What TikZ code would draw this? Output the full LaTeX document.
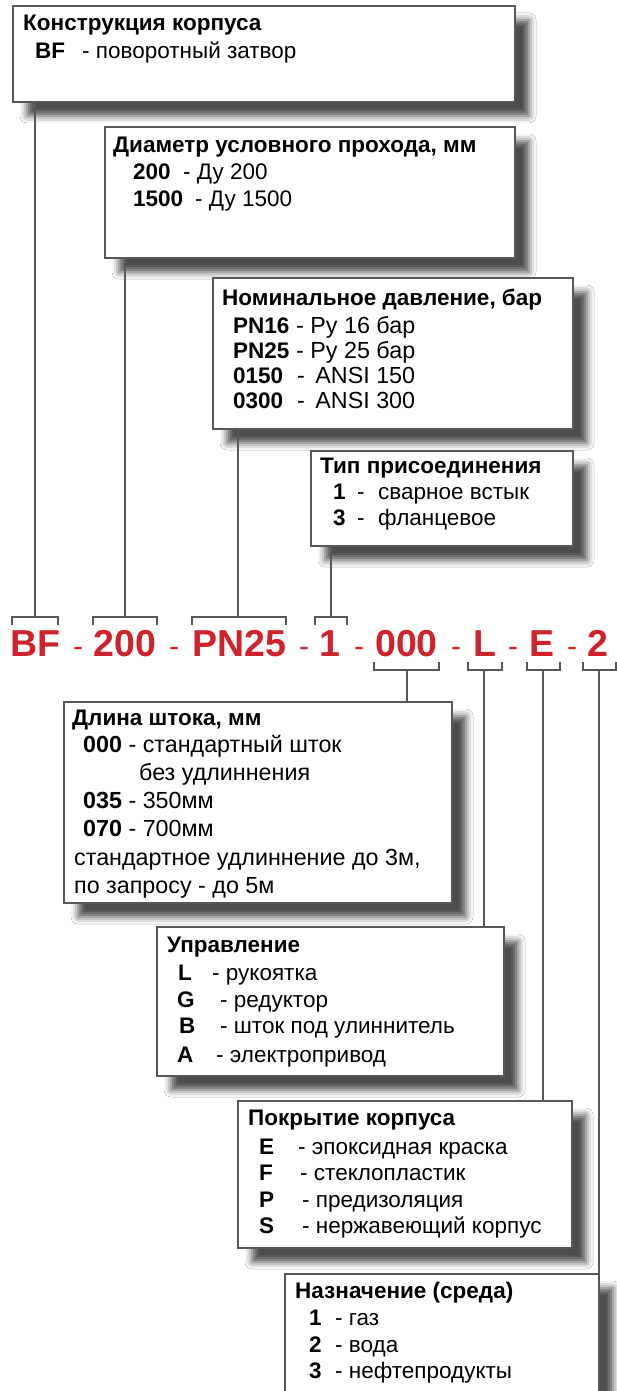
\documentclass[tikz,border=0pt]{standalone}
\usepackage{fontspec}
\setmainfont{Liberation Sans}
\usetikzlibrary{shadows.blur}
\definecolor{codered}{RGB}{208,34,42}
\definecolor{framegray}{RGB}{88,88,88}
\begin{document}
\begin{tikzpicture}[x=1pt,y=-1pt,
  infobox/.style={draw=framegray, line width=2pt, fill=white, inner sep=0pt,
    anchor=north west,
    blur shadow={shadow xshift=14pt, shadow yshift=-14pt,
      shadow blur radius=7pt, shadow opacity=70}},
  txt/.style={anchor=base west, inner sep=0pt, font=\fontsize{22.5}{26}\selectfont},
  wtxt/.style={anchor=base west, inner sep=0pt, font=\fontsize{23.3}{26}\selectfont},
  ttl/.style={txt, font=\fontsize{22.5}{26}\selectfont\bfseries},
  key/.style={txt, font=\fontsize{22.5}{26}\selectfont\bfseries},
  code/.style={anchor=base, inner sep=0pt, text=codered,
    font=\fontsize{37.5}{38}\selectfont\bfseries},
  sep/.style={anchor=base, inner sep=0pt, text=codered,
    font=\fontsize{30}{30}\selectfont},
  conn/.style={draw=framegray, line width=2.5pt},
  brk/.style={draw=framegray, line width=2pt}]
\useasboundingbox[fill=white] (0,0) rectangle (617,1391);

% ---------- code string ----------
\node[code] (cBF)  at (35.5,656) {BF};
\node[sep]  (s1)   at (78,656)   {-};
\node[code] (c200) at (125,656)  {200};
\node[sep]  (s2)   at (174,656)  {-};
\node[code] (cPN)  at (239,656)  {PN25};
\node[sep]  (s3)   at (304,656)  {-};
\node[code] (c1)   at (330,656)  {1};
\node[sep]  (s4)   at (359,656)  {-};
\node[code] (c000) at (406.5,656) {000};
\node[sep]  (s5)   at (456,656)  {-};
\node[code] (cL)   at (485,656)  {L};
\node[sep]  (s6)   at (513,656)  {-};
\node[code] (cE)   at (542,656)  {E};
\node[sep]  (s7)   at (572,656)  {-};
\node[code] (c2)   at (598,656)  {2};

% brackets above the code groups
\draw[brk] (12,625) -- (12,617) -- (58,617) -- (58,625);
\draw[brk] (93,625) -- (93,617) -- (157,617) -- (157,625);
\draw[brk] (192,625) -- (192,617) -- (286,617) -- (286,625);
\draw[brk] (315,625) -- (315,617) -- (347,617) -- (347,625);
\coordinate (uBF)  at (35,617);
\coordinate (u200) at (125,617);
\coordinate (uPN)  at (238,617);
\coordinate (u1)   at (331,617);

% brackets below the code groups
\draw[brk] (374,662) -- (374,670) -- (439,670) -- (439,662);
\draw[brk] (468,662) -- (468,670) -- (502,670) -- (502,662);
\draw[brk] (527,662) -- (527,670) -- (560,670) -- (560,662);
\draw[brk] (583,662) -- (583,670) -- (616,670) -- (616,662);
\coordinate (d000) at (407,670);
\coordinate (dL)   at (484,670);
\coordinate (dE)   at (543,670);
\coordinate (d2)   at (599,670);

% ---------- boxes ----------
\node[infobox, minimum width=502pt, minimum height=96pt]  (b1) at (12,5) {};
\node[infobox, minimum width=410pt, minimum height=131pt] (b2) at (104,126) {};
\node[infobox, minimum width=360pt, minimum height=151pt] (b3) at (212,277) {};
\node[infobox, minimum width=262pt, minimum height=95pt]  (b4) at (310,450) {};
\node[infobox, minimum width=388pt, minimum height=201pt] (b5) at (63,701) {};
\node[infobox, minimum width=347pt, minimum height=149pt] (b6) at (156,926) {};
\node[infobox, minimum width=334pt, minimum height=147pt] (b7) at (237,1100) {};
\node[infobox, minimum width=314pt, minimum height=160pt] (b8) at (284,1273) {};

% ---------- connectors ----------
\draw[conn] (b1.south -| uBF) -- (uBF);
\draw[conn] (b2.south -| u200) -- (u200);
\draw[conn] (b3.south -| uPN) -- (uPN);
\draw[conn] (b4.south -| u1) -- (u1);
\draw[conn] (d000) -- (d000 |- b5.north);
\draw[conn] (dL) -- (dL |- b6.north);
\draw[conn] (dE) -- (dE |- b7.north);
\draw[conn] (d2) -- (d2 |- b8.north);

% ---------- box texts ----------
% body construction
\node[ttl] (h1) at (23,31) {Конструкция корпуса};
\node[key] (k1a) at (35,59) {BF};
\node[txt] (v1a) at (82,59) {- поворотный затвор};

% nominal diameter
\node[ttl] (h2) at (113,153) {Диаметр условного прохода, мм};
\node[key] (k2a) at (133,180) {200};
\node[txt] (v2a) at (183,180) {- Ду 200};
\node[key] (k2b) at (133,207) {1500};
\node[txt] (v2b) at (195,207) {- Ду 1500};

% nominal pressure
\node[ttl] (h3) at (222,305) {Номинальное давление, бар};
\node[key] (k3a) at (233,333) {PN16};
\node[wtxt] (v3a) at (296,333) {- Ру 16 бар};
\node[key] (k3b) at (233,358) {PN25};
\node[wtxt] (v3b) at (296,358) {- Ру 25 бар};
\node[key] (k3c) at (233,383) {0150};
\node[wtxt] (v3c) at (297,383) {-\hspace{0.45em}ANSI 150};
\node[key] (k3d) at (233,408) {0300};
\node[wtxt] (v3d) at (297,408) {-\hspace{0.45em}ANSI 300};

% connection type
\node[ttl] (h4) at (320,473) {Тип присоединения};
\node[key] (k4a) at (333,499) {1};
\node[txt] (m4a) at (357,499) {-};
\node[txt] (v4a) at (378,499) {сварное встык};
\node[key] (k4b) at (333,525) {3};
\node[txt] (m4b) at (357,525) {-};
\node[txt] (v4b) at (378,525) {фланцевое};

% stem length
\node[ttl] (h5) at (72,725) {Длина штока, мм};
\node[wtxt] (v5a) at (83,752) {\textbf{000} - стандартный шток};
\node[wtxt] (v5b) at (139,780) {без удлиннения};
\node[wtxt] (v5c) at (83,808) {\textbf{035} - 350мм};
\node[wtxt] (v5d) at (83,836) {\textbf{070} - 700мм};
\node[wtxt] (v5e) at (74,865) {стандартное удлиннение до 3м,};
\node[wtxt] (v5f) at (74,893) {по запросу - до 5м};

% operation
\node[ttl] (h6) at (167,952) {Управление};
\node[key] (k6a) at (178,980) {L};
\node[txt] (v6a) at (212,980) {- рукоятка};
\node[key] (k6b) at (177,1007) {G};
\node[txt] (v6b) at (220,1007) {- редуктор};
\node[key] (k6c) at (179,1033) {B};
\node[txt] (v6c) at (220,1033) {- шток под улиннитель};
\node[key] (k6d) at (177,1062) {A};
\node[txt] (v6d) at (216,1062) {- электропривод};

% body coating
\node[ttl] (h7) at (248,1125) {Покрытие корпуса};
\node[key] (k7a) at (259,1154) {E};
\node[txt] (v7a) at (298,1154) {- эпоксидная краска};
\node[key] (k7b) at (259,1180) {F};
\node[txt] (v7b) at (300,1180) {- стеклопластик};
\node[key] (k7c) at (259,1207) {P};
\node[txt] (v7c) at (302,1207) {- предизоляция};
\node[key] (k7d) at (259,1233) {S};
\node[txt] (v7d) at (302,1233) {- нержавеющий корпус};

% medium
\node[ttl] (h8) at (295,1298) {Назначение (среда)};
\node[key] (k8a) at (309,1325) {1};
\node[txt] (v8a) at (335,1325) {- газ};
\node[key] (k8b) at (309,1352) {2};
\node[txt] (v8b) at (335,1352) {- вода};
\node[key] (k8c) at (309,1378) {3};
\node[txt] (v8c) at (335,1378) {- нефтепродукты};
\end{tikzpicture}
\end{document}
